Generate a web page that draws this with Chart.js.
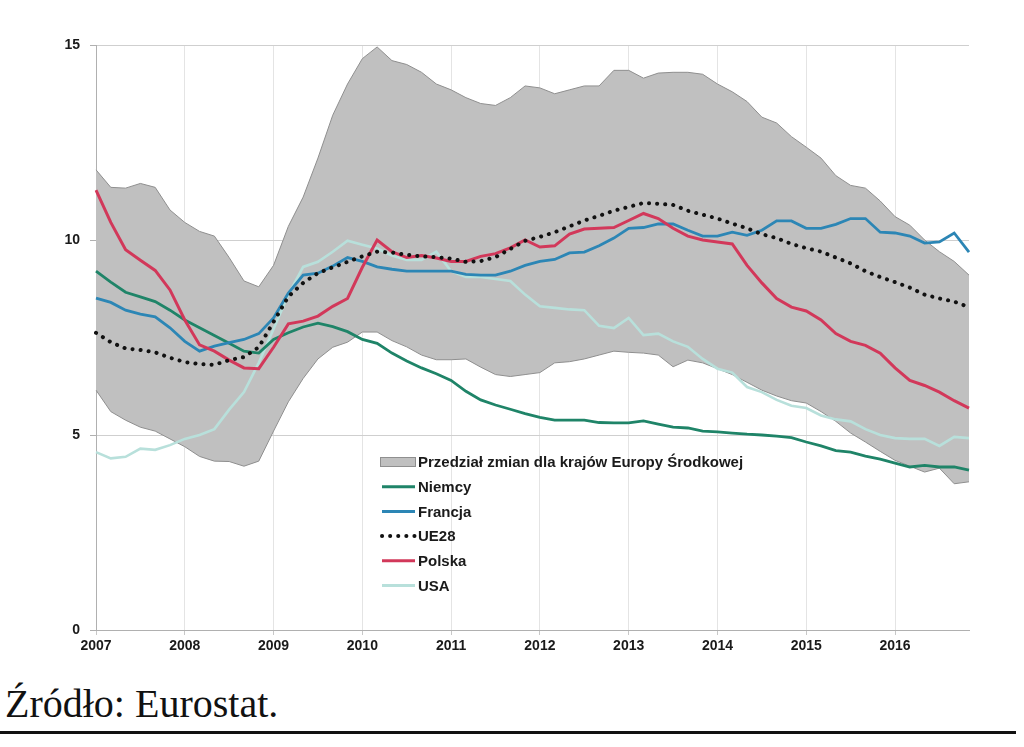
<!DOCTYPE html>
<html><head><meta charset="utf-8">
<script src="https://cdn.jsdelivr.net/npm/chart.js@4.4.1/dist/chart.umd.min.js"></script>
<style>
html,body{margin:0;padding:0;background:#fff;width:1024px;height:747px;overflow:hidden}
#wrap{position:absolute;left:0;top:0;width:1024px;height:665px}
#src{position:absolute;left:5px;top:684px;font-family:'Liberation Serif','DejaVu Serif',serif;font-size:40px;line-height:40px;color:#111;white-space:nowrap}
#rule{position:absolute;left:0;top:731px;width:1016px;height:3px;background:#111}
</style></head><body>
<div id="wrap"><canvas id="c" width="1024" height="665"></canvas></div>
<div id="src">Źródło: Eurostat.</div>
<div id="rule"></div>
<script>
const months = [
 '2007-01','2007-03','2007-05','2007-07','2007-09','2007-11',
 '2008-01','2008-03','2008-05','2008-07','2008-09','2008-11',
 '2009-01','2009-03','2009-05','2009-07','2009-09','2009-11',
 '2010-01','2010-03','2010-05','2010-07','2010-09','2010-11',
 '2011-01','2011-03','2011-05','2011-07','2011-09','2011-11',
 '2012-01','2012-03','2012-05','2012-07','2012-09','2012-11',
 '2013-01','2013-03','2013-05','2013-07','2013-09','2013-11',
 '2014-01','2014-03','2014-05','2014-07','2014-09','2014-11',
 '2015-01','2015-03','2015-05','2015-07','2015-09','2015-11',
 '2016-01','2016-03','2016-05','2016-07','2016-09','2016-11'
];
const yTicks = [0, 5, 10, 15];

const bandUpper = [11.8,11.35,11.33,11.45,11.35,10.77,10.45,10.22,10.1,9.55,
 8.95,8.8,9.35,10.35,11.1,12.1,13.2,14.0,14.65,14.95,
 14.6,14.5,14.3,14.0,13.85,13.65,13.5,13.45,13.65,13.95,
 13.9,13.75,13.85,13.95,13.95,14.35,14.35,14.15,14.28,14.3,
 14.3,14.25,14.0,13.8,13.55,13.15,13.0,12.65,12.38,12.1,
 11.65,11.4,11.33,11.0,10.6,10.38,10.0,9.7,9.45,9.1];
const bandLower = [6.15,5.6,5.38,5.2,5.1,4.9,4.7,4.45,4.33,4.32,
 4.2,4.33,5.1,5.85,6.45,6.95,7.25,7.38,7.64,7.64,
 7.42,7.26,7.05,6.93,6.93,6.95,6.74,6.55,6.5,6.55,
 6.6,6.85,6.88,6.95,7.05,7.15,7.12,7.1,7.05,6.75,
 6.92,6.85,6.7,6.55,6.35,6.15,6.0,5.88,5.82,5.6,
 5.35,5.05,4.82,4.58,4.35,4.2,4.05,4.15,3.75,3.8];
const niemcy = [9.2,8.92,8.66,8.54,8.42,8.2,7.95,7.75,7.55,7.35,
 7.15,7.1,7.45,7.62,7.77,7.87,7.78,7.65,7.45,7.35,
 7.1,6.9,6.72,6.57,6.4,6.12,5.9,5.77,5.66,5.55,
 5.45,5.38,5.38,5.38,5.32,5.31,5.31,5.36,5.28,5.2,
 5.18,5.1,5.08,5.05,5.02,5.0,4.97,4.93,4.82,4.72,
 4.6,4.56,4.46,4.38,4.28,4.18,4.22,4.18,4.18,4.1];
const francja = [8.51,8.4,8.2,8.1,8.03,7.75,7.4,7.15,7.28,7.37,
 7.45,7.6,8.0,8.64,9.1,9.15,9.33,9.55,9.45,9.31,
 9.25,9.2,9.2,9.2,9.2,9.12,9.1,9.1,9.2,9.35,
 9.45,9.5,9.67,9.69,9.85,10.05,10.3,10.32,10.41,10.41,
 10.25,10.1,10.1,10.2,10.12,10.25,10.49,10.49,10.3,10.3,
 10.4,10.55,10.55,10.2,10.18,10.1,9.92,9.95,10.18,9.69];
const ue28 = [7.62,7.38,7.22,7.18,7.12,6.98,6.87,6.82,6.8,6.92,
 7.0,7.25,7.9,8.55,8.9,9.15,9.3,9.44,9.58,9.7,
 9.68,9.62,9.58,9.56,9.52,9.44,9.46,9.56,9.77,9.98,
 10.08,10.2,10.35,10.5,10.62,10.75,10.85,10.95,10.93,10.9,
 10.75,10.65,10.55,10.42,10.3,10.15,10.05,9.9,9.79,9.7,
 9.55,9.4,9.2,9.05,8.92,8.78,8.6,8.5,8.42,8.28];
const polska = [11.28,10.45,9.75,9.48,9.22,8.72,7.95,7.31,7.15,6.92,
 6.72,6.7,7.25,7.85,7.92,8.05,8.3,8.5,9.3,10.0,
 9.7,9.55,9.6,9.54,9.45,9.45,9.58,9.65,9.8,10.0,
 9.82,9.85,10.15,10.28,10.3,10.32,10.5,10.68,10.55,10.3,
 10.1,10.0,9.95,9.9,9.35,8.9,8.5,8.28,8.18,7.95,
 7.6,7.4,7.3,7.1,6.72,6.4,6.27,6.1,5.88,5.69];
const usa = [4.56,4.4,4.44,4.65,4.62,4.74,4.9,5.0,5.15,5.65,
 6.1,6.85,7.72,8.6,9.31,9.44,9.7,9.98,9.88,9.78,
 9.6,9.49,9.49,9.7,9.2,9.05,9.05,9.0,8.95,8.6,
 8.3,8.26,8.22,8.2,7.8,7.74,8.0,7.56,7.6,7.4,
 7.26,6.95,6.7,6.6,6.23,6.1,5.9,5.75,5.69,5.5,
 5.4,5.35,5.15,5.0,4.92,4.9,4.9,4.72,4.95,4.92];

const FONT = '"Liberation Sans", Arial, sans-serif';

const legendPlugin = {
  id: 'insideLegend',
  afterDraw(chart) {
    const ctx = chart.ctx;
    const ds = chart.data.datasets;
    const items = [1, 2, 3, 4, 5, 6];
    const x0 = 380, y0 = 462, dy = 24.7, w = 35;
    ctx.save();
    ctx.font = 'bold 15px ' + FONT;
    ctx.textBaseline = 'middle';
    items.forEach((di, i) => {
      const d = ds[di];
      const y = y0 + i * dy;
      if (d.fill) {
        ctx.fillStyle = d.backgroundColor;
        ctx.strokeStyle = d.borderColor;
        ctx.lineWidth = 1;
        ctx.fillRect(x0 + 0.5, y - 4.5, w, 9);
        ctx.strokeRect(x0 + 0.5, y - 4.5, w, 9);
      } else {
        ctx.beginPath();
        ctx.strokeStyle = d.borderColor;
        ctx.lineWidth = Math.max(3, d.borderWidth);
        ctx.lineCap = d.borderCapStyle || 'butt';
        ctx.setLineDash(d.borderDash || []);
        ctx.moveTo(x0 + 2, y);
        ctx.lineTo(x0 + w, y);
        ctx.stroke();
        ctx.setLineDash([]);
      }
      ctx.fillStyle = '#1a1a1a';
      ctx.fillText(d.label, x0 + w + 3, y + 1);
    });
    ctx.restore();
  }
};

const line = (label, data, color, width, order, extra) => Object.assign({
  label, data, borderColor: color, backgroundColor: color, borderWidth: width,
  pointRadius: 0, pointHoverRadius: 0, tension: 0, fill: false, order
}, extra || {});

new Chart(document.getElementById('c'), {
  type: 'line',
  data: {
    labels: months,
    datasets: [
      line('Dolna granica', bandLower, '#8f8f8f', 1, 9),
      line('Przedział zmian dla krajów Europy Środkowej', bandUpper, '#8f8f8f', 1, 9,
           { fill: '-1', backgroundColor: '#c0c0c0' }),
      line('Niemcy', niemcy, '#1f8468', 2.8, 4),
      line('Francja', francja, '#2c86b5', 2.8, 3),
      line('UE28', ue28, '#111111', 4, 1, { borderDash: [0.1, 8], borderCapStyle: 'round' }),
      line('Polska', polska, '#d2385a', 3, 2),
      line('USA', usa, '#b8e0db', 2.6, 5)
    ]
  },
  options: {
    responsive: false,
    animation: false,
    devicePixelRatio: 1,
    layout: { padding: { top: 45, right: 55, left: 0, bottom: 0 } },
    plugins: { legend: { display: false }, tooltip: { enabled: false } },
    scales: {
      x: {
        offset: false,
        afterFit(s) { s.height = 35; },
        border: { color: '#b0b0b0', width: 1 },
        grid: {
          color: c => (c.index % 6 === 0 ? '#e4e4e4' : 'rgba(0,0,0,0)'),
          tickColor: c => (c.index % 6 === 0 ? '#c8c8c8' : 'rgba(0,0,0,0)'),
          tickLength: 5
        },
        ticks: {
          autoSkip: false, maxRotation: 0, padding: 3,
          color: '#1a1a1a', font: { family: FONT, size: 14, weight: 'bold' },
          callback(v, i) { const l = months[i]; return l.endsWith('-01') ? l.slice(0, 4) : ''; }
        }
      },
      y: {
        min: 0, max: 15,
        afterFit(s) { s.width = 96; },
        afterBuildTicks(s) { s.ticks = yTicks.map(v => ({ value: v })); },
        border: { color: '#b0b0b0', width: 1 },
        grid: { color: '#cfcfcf', tickColor: '#b0b0b0', tickLength: 6 },
        ticks: {
          padding: 10, color: '#1a1a1a',
          font: { family: FONT, size: 14, weight: 'bold' }
        }
      }
    }
  },
  plugins: [legendPlugin]
});
</script>
</body></html>
